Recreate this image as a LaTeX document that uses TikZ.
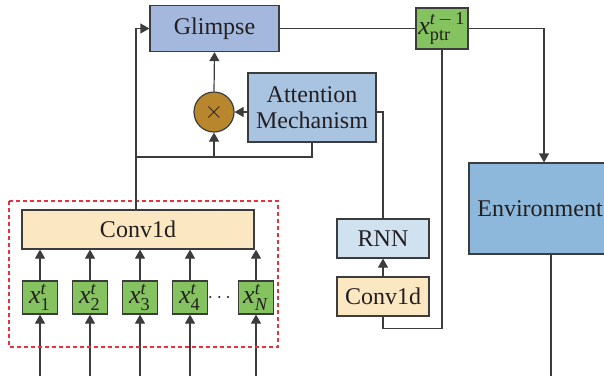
\documentclass[tikz,border=0pt]{standalone}
\usepackage{fontspec}
\setmainfont{Liberation Serif}
\usepackage{amsmath}
\usepackage{tikz}
\usetikzlibrary{calc}
\usetikzlibrary{arrows.meta}
\usetikzlibrary{positioning}
\definecolor{glimpseblue}{RGB}{164,183,221}
\definecolor{attnblue}{RGB}{169,196,224}
\definecolor{envblue}{RGB}{141,184,219}
\definecolor{rnnblue}{RGB}{208,226,240}
\definecolor{convcream}{RGB}{251,231,193}
\definecolor{xgreen}{RGB}{132,195,95}
\definecolor{mulgold}{RGB}{184,134,44}
\definecolor{dashred}{RGB}{230,50,60}
\definecolor{boxline}{RGB}{60,60,60}
\definecolor{inkgray}{RGB}{35,31,32}
\newcommand{\xlab}[2]{{\fontsize{13}{15}\selectfont$\textit{x}^{\text{\textit{#1}}}_{\text{#2}}$}}
\tikzstyle{blk}=[draw=boxline, line width=0.6pt, inner sep=0pt, text=inkgray,
                font=\fontsize{12}{14}\selectfont]
\tikzstyle{xbox}=[blk, fill=xgreen, minimum width=17.5pt, minimum height=16.5pt]
\tikzstyle{link}=[draw=boxline, line width=0.6pt]
\tikzstyle{arr}=[link, -{Triangle[width=5pt,length=4.5pt]}]

\begin{document}
\begin{tikzpicture}[x=0.5pt,y=-0.5pt]
\useasboundingbox (0,0) rectangle (604,376);
\clip (0,0) rectangle (604,376);
\node[blk, fill=glimpseblue, minimum width=64.5pt, minimum height=23pt] (glimpse) at (214.5,28.5) {Glimpse};
\node[xbox, minimum width=26pt, minimum height=20.5pt] (xptr) at (442,28.5) {\xlab{t\,\textup{$-$}\,\textup{1}}{ptr}};
\node[blk, circle, fill=mulgold, minimum size=20pt] (mul) at (214,112) {$\times$};
\node[blk, fill=attnblue, minimum width=64pt, minimum height=34.5pt, align=center] (attn) at (312,107.5) {Attention\\[-1pt]Mechanism};
\node[blk, fill=convcream, minimum width=116pt, minimum height=19.5pt] (conv) at (138,229.5) {Conv1d};
\node[blk, fill=rnnblue, minimum width=46pt, minimum height=19.5pt] (rnn) at (383,238.5) {RNN};
\node[blk, fill=convcream, minimum width=46pt, minimum height=19.5pt] (conv2) at (383,296.5) {Conv1d};
\node[blk, fill=envblue, minimum width=71pt, minimum height=45.5pt] (env) at (540,208.5) {Environment};

% input sequence
\foreach \i/\x/\s in {1/40/1,2/90/2,3/140/3,4/190/4,N/256/\textit{N}}{
  \node[xbox] (x\i) at (\x,297.5) {\xlab{t}{\s}};
  \coordinate (in\i) at (\x,376);
  \draw[arr] (in\i) -- (x\i.south);
  \draw[arr] (x\i.north) -- (x\i.north |- conv.south);
}
\node[text=inkgray] (dots) at (221,298) {$\cdots$};
\draw[dashred, dashed, line width=0.6pt, dash pattern=on 2pt off 1.5pt] (9,201) rectangle (278,347);

\coordinate (jn) at (136,157);
\coordinate (out) at (551,376);
\draw[arr] (conv.north -| jn) |- (glimpse.west);
\draw[link] (attn.south) |- (jn);
\draw[arr] (mul.south |- jn) -- (mul.south);
\draw[arr] (mul.north) -- (glimpse.south);
\draw[arr] (attn.west |- mul.east) -- (mul.east);
\draw[link] (attn.east |- mul.east) -| (rnn.north);
\draw[arr] (conv2.north) -- (rnn.south);
\draw[link] (conv2.south) -- ++(0,12) -| (xptr.south);
\draw[link] (glimpse.east) -- (xptr.west);
\draw[arr] (xptr.east) -| ([xshift=2pt]env.north);
\draw[link] (out |- env.south) -- (out);
\end{tikzpicture}
\end{document}
